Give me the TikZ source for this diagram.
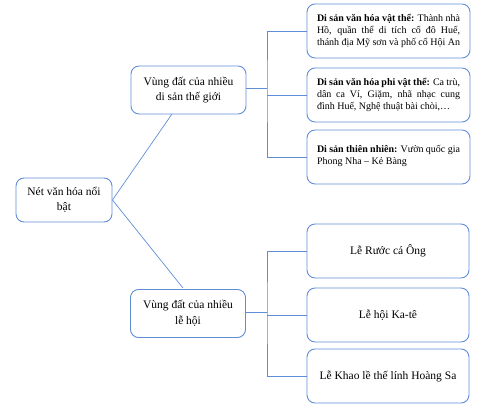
\documentclass[tikz,border=0pt]{standalone}
\usepackage{fontspec}
\setmainfont{Liberation Serif}
\definecolor{bl}{RGB}{96,142,214}
\tikzset{
  x=1pt,y=-1pt,
  box/.style={draw=bl,line width=0.9pt,rounded corners=8pt,align=center,inner sep=3pt},
  mbox/.style={box,minimum width=115pt,minimum height=48pt,font=\fontsize{11.5}{15.5}\selectfont},
  rbox/.style={box,minimum width=163pt,minimum height=54pt,text width=143pt,align=justify,font=\fontsize{10}{12.2}\selectfont},
  sbox/.style={box,minimum width=162pt,minimum height=54pt,font=\fontsize{11.5}{14}\selectfont},
  link/.style={draw=bl,line width=0.7pt}
}
\begin{document}
\begin{tikzpicture}
\useasboundingbox (0,0) rectangle (485,412);
\node[box,minimum width=96pt,minimum height=44pt,font=\fontsize{11.5}{15.5}\selectfont] (L) at (64,200) {Nét văn hóa nổi\\bật};
\node[mbox] (M1) at (188.5,90) {Vùng đất của nhiều\\di sản thế giới};
\node[mbox] (M2) at (188,313.5) {Vùng đất của nhiều\\lễ hội};
\node[rbox] (R1) at (388.5,31) {\textbf{Di sản văn hóa vật thể:} Thành nhà\linebreak Hồ, quần thể di tích cố đô Huế,\linebreak thánh địa Mỹ sơn và phố cổ Hội An};
\node[rbox] (R2) at (388.5,95) {\textbf{Di sản văn hóa phi vật thể:} Ca trù,\linebreak dân ca Ví, Giặm, nhã nhạc cung\linebreak đình Huế, Nghệ thuật bài chòi,\dots};
\node[rbox] (R3) at (388.5,157) {\textbf{Di sản thiên nhiên:} Vườn quốc gia\linebreak Phong Nha -- Kẻ Bàng\strut};
\node[sbox] (S1) at (388,251) {Lễ Rước cá Ông};
\node[sbox] (S2) at (388,315) {Lễ hội Ka-tê};
\node[sbox] (S3) at (388,376) {Lễ Khao lề thế lính Hoàng Sa};
\coordinate (B1) at (267,88);
\coordinate (B2) at (267,312);
\coordinate (P1) at (172,114);
\coordinate (P2) at (183,288);
\draw[link] (L.east) -- (P1);
\draw[link] (L.east) -- (P2);
\draw[link] (M1.east |- B1) -- (B1);
\draw[link] (R1.west) -| (B1) |- (R3.west);
\draw[link] (B1 |- R2.west) -- (R2.west);
\draw[link] (M2.east |- B2) -- (B2);
\draw[link] (S1.west) -| (B2) |- (S3.west);
\draw[link] (B2 |- S2.west) -- (S2.west);
\end{tikzpicture}
\end{document}
